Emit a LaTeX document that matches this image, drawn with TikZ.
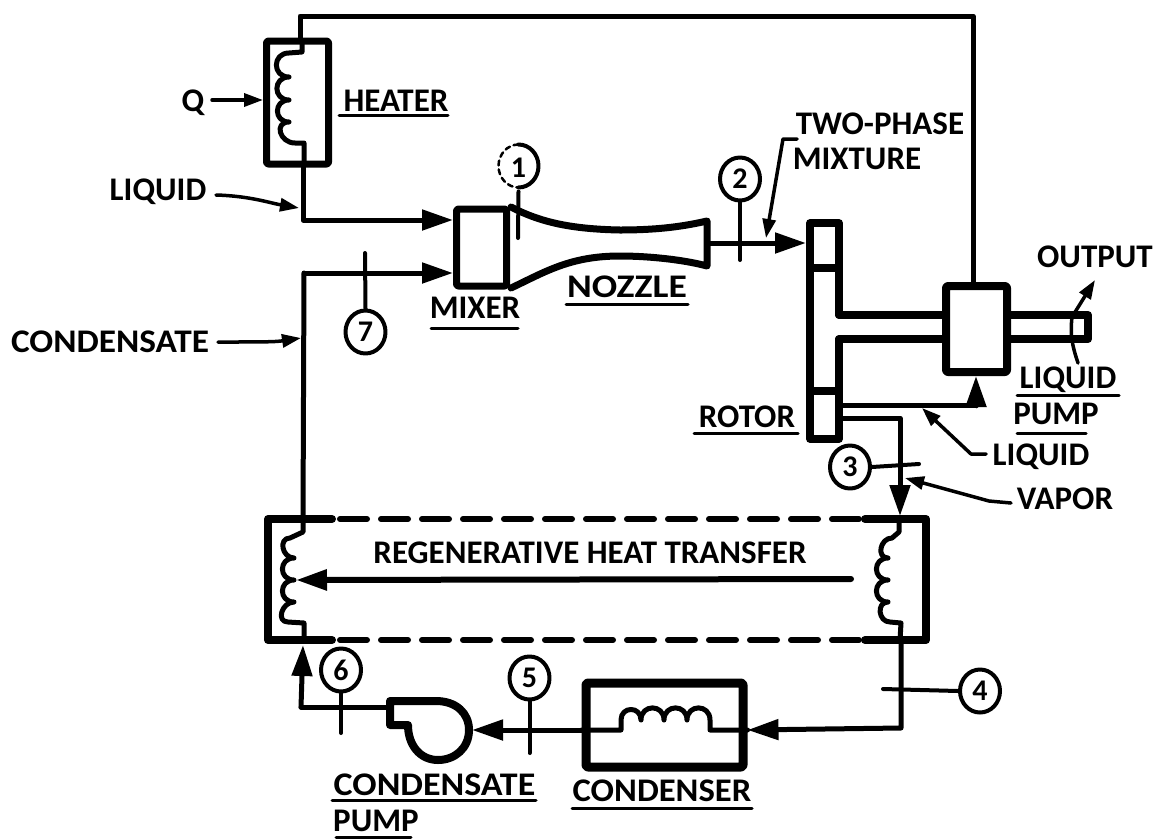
\documentclass[tikz,border=0pt]{standalone}
\usepackage{fontspec}
\setmainfont{Carlito}
\usetikzlibrary{arrows.meta,shapes.geometric}

\tikzset{
  pipe/.style={line width=5pt},
  wall/.style={line width=7.5pt},
  tick/.style={line width=4pt},
  leader/.style={line width=3.5pt},
  ulbar/.style={line width=3pt},
  unitbox/.style={draw,line width=7pt,rounded corners=2pt,inner sep=0pt},
  lbl/.style={font=\fontsize{33}{33}\selectfont\bfseries,inner sep=0pt},
  wider/.style={transform shape,xscale=#1},
  station/.style={ellipse,draw,line width=4pt,minimum width=40pt,minimum height=43pt,inner sep=0pt,
    font=\fontsize{30}{30}\selectfont\bfseries},
  bighead/.style={-{Triangle[length=31pt,width=20pt]}},
  smallhead/.style={-{Triangle[length=19pt,width=13pt]}}
}

\begin{document}
\begin{tikzpicture}[x=1pt,y=-1pt,line cap=round,line join=round]
      \useasboundingbox (0,0) rectangle (1154,839);

      \node[unitbox,minimum width=62pt,minimum height=123pt] (heater) at (297.5,102.5) {};
      \node[unitbox,minimum width=50pt,minimum height=77pt] (mixer) at (481.5,247.5) {};
      \node[unitbox,line width=8pt,minimum width=61pt,minimum height=86pt] (shaftpump) at (976.5,329) {};
      \node[unitbox,line width=9pt,minimum width=157pt,minimum height=84pt] (condenser) at (664.5,725) {};

      \node[station,draw=none] (st1) at (518.5,168) {1};
      \node[station] (st2) at (740,179) {2};
      \node[station] (st3) at (850,467) {3};
      \node[station] (st4) at (980,691) {4};
      \node[station] (st5) at (529.5,678) {5};
      \node[station] (st6) at (341,670) {6};
      \node[station] (st7) at (365.5,332) {7};

      \node[lbl] (q) at (193,103) {Q};
      \node[lbl] (heatertext) at (396,101) {HEATER};
      \node[lbl] (liquidin) at (158,192) {LIQUID};
      \node[lbl,wider=1.07] (condensate) at (110,342) {CONDENSATE};
      \node[lbl] (mixertext) at (475,308) {MIXER};
      \node[lbl,wider=1.14] (nozzletext) at (627,287) {NOZZLE};
      \node[lbl] (twophase) at (880,124) {TWO-PHASE};
      \node[lbl] (mixture) at (857,159) {MIXTURE};
      \node[lbl] (output) at (1095,257) {OUTPUT};
      \node[lbl] (pumpa) at (1068,380) {LIQUID};
      \node[lbl] (pumpb) at (1056,414) {PUMP};
      \node[lbl] (rotortext) at (747,417) {ROTOR};
      \node[lbl] (liquidout) at (1041,457) {LIQUID};
      \node[lbl] (vapor) at (1065,499) {VAPOR};
      \node[lbl] (regen) at (590,553) {REGENERATIVE HEAT TRANSFER};
      \node[lbl,wider=1.09] (condpump) at (434.5,785) {CONDENSATE};
      \node[lbl] (condpumpb) at (376,821) {PUMP};
      \node[lbl,wider=1.05] (condensertext) at (662,791) {CONDENSER};

      \coordinate (topleft) at (300,16);
      \coordinate (topright) at (973,16);
      \coordinate (heatout) at (303,220);
      \coordinate (condcorner) at (304,273);
      \coordinate (rotorin) at (806,243);
      \coordinate (nozzleout) at (707,243);
      \coordinate (xleft) at (303,645);
      \coordinate (xright) at (900,640);

      \draw[ulbar] (339,115) -- (448,115);
      \draw[ulbar] (431,328) -- (518,328);
      \draw[ulbar] (566,304) -- (688,304);
      \draw[ulbar] (1017,395) -- (1119,395);
      \draw[ulbar] (1017,433) -- (1086,433);
      \draw[ulbar] (694,433) -- (798,433);
      \draw[ulbar] (332,800) -- (536,800);
      \draw[ulbar] (336,837) -- (411,837);
      \draw[ulbar] (572,808) -- (752,808);

      \draw[pipe] (300,41) -- (topleft) -- (topright) -- (shaftpump.north -| topright);
      \draw[pipe] (302,41) -- (302,52) -- (289,53)
        to[out=180,in=180,looseness=1.8] (289,77)
        to[out=180,in=180,looseness=1.8] (289,100)
        to[out=180,in=180,looseness=1.8] (289,122)
        to[out=180,in=180,looseness=1.8] (295,143) -- (304,143) -- (304,165);
      \draw[pipe,bighead] (303,165) -- (heatout) -- (mixer.west |- heatout);
      \draw[pipe,bighead] (condcorner) -- (mixer.west |- condcorner);
      \draw[pipe] (condcorner) -- (303,520) -- (303,532) -- (290,538)
        to[out=180,in=180,looseness=1.5] (294,558)
        to[out=180,in=180,looseness=1.8] (294,580)
        to[out=180,in=180,looseness=1.8] (294,602)
        to[out=180,in=180,looseness=1.5] (288,622) -- (304,623) -- (304,638);

      \draw[wall,line width=7pt] (511,207) .. controls (540,222) and (570,229) .. (620,230)
        .. controls (660,230) and (685,226) .. (707,221) -- (707,266)
        .. controls (685,260) and (650,256) .. (620,256)
        .. controls (570,256) and (545,272) .. (511,288);
      \draw[pipe] (nozzleout) -- (772,243);
      \draw[pipe,bighead] (760,243) -- (rotorin);

      \draw[wall] (839,315) -- (839,223) -- (810,223) -- (810,439) -- (839,439) -- (839,339);
      \draw[wall] (810,268) -- (839,268);
      \draw[wall] (810,391) -- (839,391);
      \draw[wall,line width=8pt] (839,315) -- (shaftpump.west |- 0,315);
      \draw[wall,line width=8pt] (839,339) -- (shaftpump.west |- 0,339);
      \draw[wall,line width=8pt] (shaftpump.east |- 0,315) -- (1088,315) -- (1088,339) -- (shaftpump.east |- 0,339);

      \draw[pipe,bighead] (843,405) -- (976,405) -- (shaftpump.south -| 976,0);
      \draw[pipe] (843,418) -- (900,418) -- (900,490);
      \draw[pipe,bighead] (900,470) -- (900,516);

      \draw[wall,line width=8pt] (332,519) -- (268,519) -- (268,640) -- (332,640);
      \draw[wall,line width=8pt] (865,519) -- (926,519) -- (926,640) -- (865,640);
      \draw[wall,line width=6pt,dash pattern=on 27pt off 14pt] (340,519) -- (860,519);
      \draw[wall,line width=6pt,dash pattern=on 27pt off 14pt] (340,640) -- (860,640);
      \draw[pipe] (xright) -- (901,623) -- (890,622)
        to[out=180,in=180,looseness=1.5] (888,602)
        to[out=180,in=180,looseness=1.8] (888,580)
        to[out=180,in=180,looseness=1.8] (888,558)
        to[out=180,in=180,looseness=1.5] (892,538) -- (899,532) -- (899,520);
      \draw[wall,line width=6pt,bighead] (851,579) -- (296,580);

      \draw[pipe,bighead] (901,640) -- (901,728) -- (condenser.east |- 0,730);
      \draw[pipe] (condenser.east |- 0,730) -- (710,730) -- (710,720)
        to[out=90,in=90,looseness=1.8] (687,720)
        to[out=90,in=90,looseness=1.8] (664,720)
        to[out=90,in=90,looseness=1.8] (641,720)
        to[out=90,in=90,looseness=1.8] (621,720) -- (621,730) -- (condenser.west |- 0,730);
      \draw[pipe,bighead] (condenser.west |- 0,730) -- (472,730);

      \draw[wall,line width=8pt] (390,701) -- (436,701)
        .. controls (456,701) and (469,713) .. (469,730)
        .. controls (469,748) and (455,760) .. (438,760)
        .. controls (420,760) and (408,745) .. (408,725) -- (390,725) -- cycle;
      \draw[pipe] (386,707) -- (301,707);
      \draw[pipe,bighead] (301,707) -- (xleft);

      \draw[leader,smallhead] (q) ++(19,-3) -- (heater.west |- 0,100);
      \draw[leader,smallhead] (216,195) .. controls (250,196) and (270,203) .. (299,208);
      \draw[leader,smallhead] (218,342) .. controls (260,342) and (275,342) .. (301,338);
      \draw[leader,smallhead] (797,139) -- (783,139) -- (766,238);
      \draw[leader,smallhead] (986,454) -- (971,454) -- (922,408);
      \draw[leader,smallhead] (1011,503) -- (989,501) -- (905,478);
      \draw[leader] (1078,363) .. controls (1072,345) and (1070,335) .. (1072,317);
      \draw[leader,smallhead] (1072,317) -- (1095,280);

      \draw[tick] (st1.north) arc[start angle=90,end angle=-90,x radius=20pt,y radius=21.5pt];
      \draw[tick,line width=2.5pt,dash pattern=on 5pt off 4pt] (st1.north) arc[start angle=90,end angle=270,x radius=20pt,y radius=21.5pt];
      \draw[tick] (st1.south) -- (518,238);
      \draw[tick] (st2.south) -- (740,260);
      \draw[tick] (st3.east) -- (919,464);
      \draw[tick] (st4.west) -- (883,689);
      \draw[tick] (st5.south) -- (529.5,753);
      \draw[tick] (st6.south) -- (341,733);
      \draw[tick] (st7.north) -- (365,253);
\end{tikzpicture}
\end{document}
